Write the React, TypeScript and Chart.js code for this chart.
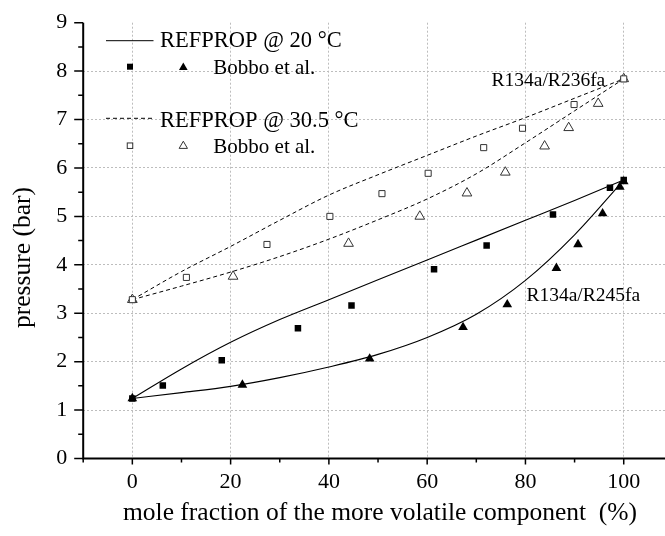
import React, { useEffect, useRef } from 'react';
import { Chart, registerables } from 'chart.js';

Chart.register(...registerables);

const FONT = "'Liberation Serif', 'Times New Roman', Times, serif";

// REFPROP curves (sampled along composition)
const curveX = [0, 10, 20, 30, 40, 50, 60, 70, 80, 90, 100];
const bubble20 = [1.24, 1.85, 2.4, 2.87, 3.28, 3.69, 4.1, 4.51, 4.92, 5.33, 5.75];
const dew20 = [1.24, 1.36, 1.49, 1.67, 1.89, 2.15, 2.5, 2.98, 3.68, 4.62, 5.75];
const bubble30 = [3.28, 3.86, 4.38, 4.92, 5.44, 5.86, 6.26, 6.66, 7.04, 7.44, 7.84];
const dew30 = [3.28, 3.56, 3.85, 4.17, 4.53, 4.93, 5.36, 5.88, 6.52, 7.18, 7.84];

// Bobbo et al. experimental points
const sq20X = [0, 6.2, 18.2, 33.7, 44.6, 61.4, 72.1, 85.6, 97.2, 100];
const sq20Y = [1.24, 1.51, 2.03, 2.69, 3.16, 3.91, 4.4, 5.04, 5.59, 5.75];
const tri20X = [0, 22.4, 48.3, 67.3, 76.3, 86.3, 90.7, 95.7, 99.2, 100];
const tri20Y = [1.24, 1.52, 2.06, 2.71, 3.18, 3.93, 4.42, 5.06, 5.61, 5.72];
const sq30X = [0, 11.0, 27.4, 40.2, 50.8, 60.2, 71.5, 79.4, 89.9, 100];
const sq30Y = [3.28, 3.74, 4.42, 5.0, 5.47, 5.89, 6.42, 6.82, 7.31, 7.84];
const tri30X = [0, 20.5, 44.0, 58.5, 68.1, 75.9, 83.9, 88.8, 94.8, 100];
const tri30Y = [3.28, 3.76, 4.44, 5.0, 5.48, 5.91, 6.45, 6.83, 7.33, 7.84];

// Ticks
const xTickValues = [-10, 0, 10, 20, 30, 40, 50, 60, 70, 80, 90, 100];
const xLabelValues = [0, 20, 40, 60, 80, 100];
const yTickValues = [0, 0.5, 1, 1.5, 2, 2.5, 3, 3.5, 4, 4.5, 5, 5.5, 6, 6.5, 7, 7.5, 8, 8.5, 9];
const yGridValues = [1, 2, 3, 4, 5, 6, 7, 8];

// Texts
const xTitle = 'mole fraction of the more volatile component  (%)';
const yTitle = 'pressure (bar)';
const legendLabels = ['REFPROP @ 20 °C', 'Bobbo et al.', 'REFPROP @ 30.5 °C', 'Bobbo et al.'];
const annotLabels = ['R134a/R236fa', 'R134a/R245fa'];
const annotPos = [
  { x: 73.1, y: 7.7 },
  { x: 80.2, y: 3.26 },
];

const toPts = (xs: number[], ys: number[]) => xs.map((x, i) => ({ x, y: ys[i] }));

export default function App() {
  const ref = useRef<HTMLCanvasElement>(null);

  useEffect(() => {
    if (!ref.current) return;

    const drawSquare = (ctx: any, cx: number, cy: number, s: number, fill: boolean) => {
      if (fill) {
        ctx.fillStyle = '#000';
        ctx.fillRect(cx - s / 2, cy - s / 2, s, s);
      } else {
        ctx.strokeStyle = '#333';
        ctx.lineWidth = 1;
        ctx.strokeRect(cx - s / 2, cy - s / 2, s, s);
      }
    };
    const drawTri = (ctx: any, cx: number, cy: number, r: number, fill: boolean) => {
      ctx.beginPath();
      ctx.moveTo(cx, cy - r);
      ctx.lineTo(cx + r * 0.866, cy + r * 0.5);
      ctx.lineTo(cx - r * 0.866, cy + r * 0.5);
      ctx.closePath();
      if (fill) {
        ctx.fillStyle = '#000';
        ctx.fill();
      } else {
        ctx.strokeStyle = '#333';
        ctx.lineWidth = 1;
        ctx.stroke();
      }
    };

    const overlay = {
      id: 'overlay',
      afterDraw(chart: any) {
        const { ctx, chartArea: a } = chart;
        const xs = chart.scales.x;
        const ys = chart.scales.y;
        ctx.save();
        // axis lines
        ctx.strokeStyle = '#000';
        ctx.lineWidth = 2;
        ctx.setLineDash([]);
        ctx.beginPath();
        ctx.moveTo(a.left, a.top);
        ctx.lineTo(a.left, a.bottom);
        ctx.lineTo(a.right + 2, a.bottom);
        ctx.stroke();
        // tick marks
        ctx.lineWidth = 1.5;
        ctx.beginPath();
        yTickValues.forEach((v) => {
          const py = ys.getPixelForValue(v);
          const len = Number.isInteger(v) ? 9 : 5;
          ctx.moveTo(a.left, py);
          ctx.lineTo(a.left - len, py);
        });
        xTickValues.forEach((v) => {
          const px = xs.getPixelForValue(v);
          const len = xLabelValues.includes(v) ? 6 : 4;
          ctx.moveTo(px, a.bottom);
          ctx.lineTo(px, a.bottom + len);
        });
        ctx.stroke();

        // axis titles
        ctx.fillStyle = '#000';
        ctx.font = `25.5px ${FONT}`;
        ctx.textAlign = 'center';
        ctx.textBaseline = 'alphabetic';
        ctx.fillText(xTitle, 380, 519.5);
        ctx.save();
        ctx.translate(29.6, 257.5);
        ctx.rotate(-Math.PI / 2);
        ctx.fillText(yTitle, 0, 0);
        ctx.restore();

        // legend
        ctx.textAlign = 'left';
        ctx.strokeStyle = '#000';
        ctx.lineWidth = 1;
        ctx.beginPath();
        ctx.moveTo(106, 40.7);
        ctx.lineTo(153.5, 40.7);
        ctx.stroke();
        ctx.fillStyle = '#000';
        ctx.font = `22.5px ${FONT}`;
        ctx.fillText(legendLabels[0], 160, 46.7);
        drawSquare(ctx, 130, 66.7, 6, true);
        drawTri(ctx, 183.3, 67.5, 5, true);
        ctx.fillStyle = '#000';
        ctx.font = `21px ${FONT}`;
        ctx.fillText(legendLabels[1], 213.3, 74);
        ctx.setLineDash([4, 3]);
        ctx.strokeStyle = '#000';
        ctx.beginPath();
        ctx.moveTo(106, 118.3);
        ctx.lineTo(153.5, 118.3);
        ctx.stroke();
        ctx.setLineDash([]);
        ctx.font = `22.5px ${FONT}`;
        ctx.fillText(legendLabels[2], 160, 126.7);
        drawSquare(ctx, 130, 145.7, 5.5, false);
        drawTri(ctx, 183.3, 146, 4.8, false);
        ctx.fillStyle = '#000';
        ctx.font = `21px ${FONT}`;
        ctx.fillText(legendLabels[3], 213.3, 152.7);

        // annotations
        ctx.font = `19.5px ${FONT}`;
        annotLabels.forEach((t, i) => {
          ctx.fillText(t, xs.getPixelForValue(annotPos[i].x), ys.getPixelForValue(annotPos[i].y));
        });
        ctx.restore();
      },
    };

    const chart = new Chart(ref.current, {
      type: 'scatter',
      data: {
        datasets: [
          {
            label: 'sq20',
            data: toPts(sq20X, sq20Y),
            pointStyle: 'rect',
            pointRadius: 4.6,
            backgroundColor: '#000',
            borderColor: '#000',
            borderWidth: 0,
          },
          {
            label: 'tri20',
            data: toPts(tri20X, tri20Y),
            pointStyle: 'triangle',
            pointRadius: 5.6,
            backgroundColor: '#000',
            borderColor: '#000',
            borderWidth: 0,
          },
          {
            label: 'sq30',
            data: toPts(sq30X, sq30Y),
            pointStyle: 'rect',
            pointRadius: 4.3,
            backgroundColor: '#fff',
            borderColor: '#333',
            borderWidth: 1,
          },
          {
            label: 'tri30',
            data: toPts(tri30X, tri30Y),
            pointStyle: 'triangle',
            pointRadius: 5.6,
            backgroundColor: '#fff',
            borderColor: '#333',
            borderWidth: 1,
          },
          {
            label: 'REFPROP 20 bubble',
            data: toPts(curveX, bubble20),
            showLine: true,
            pointRadius: 0,
            borderColor: '#000',
            borderWidth: 1.1,
            cubicInterpolationMode: 'monotone',
          },
          {
            label: 'REFPROP 20 dew',
            data: toPts(curveX, dew20),
            showLine: true,
            pointRadius: 0,
            borderColor: '#000',
            borderWidth: 1.1,
            cubicInterpolationMode: 'monotone',
          },
          {
            label: 'REFPROP 30.5 bubble',
            data: toPts(curveX, bubble30),
            showLine: true,
            pointRadius: 0,
            borderColor: '#000',
            borderWidth: 1,
            borderDash: [4, 3],
            cubicInterpolationMode: 'monotone',
          },
          {
            label: 'REFPROP 30.5 dew',
            data: toPts(curveX, dew30),
            showLine: true,
            pointRadius: 0,
            borderColor: '#000',
            borderWidth: 1,
            borderDash: [4, 3],
            cubicInterpolationMode: 'monotone',
          },
        ] as any,
      },
      options: {
        animation: false,
        responsive: false,
        maintainAspectRatio: false,
        layout: { autoPadding: false, padding: { top: 22.7, right: 0, left: 0, bottom: 0 } },
        plugins: {
          legend: { display: false },
          tooltip: { enabled: false },
          title: { display: false },
        },
        scales: {
          x: {
            type: 'linear',
            min: -10,
            max: 108.4,
            afterBuildTicks: (s: any) => {
              s.ticks = xTickValues.map((v) => ({ value: v }));
            },
            afterFit: (s: any) => {
              s.height = 77.5;
              s.paddingLeft = 0;
              s.paddingRight = 0;
              s.paddingTop = 0;
              s.paddingBottom = 0;
            },
            ticks: {
              autoSkip: false,
              maxRotation: 0,
              padding: 11,
              color: '#000',
              font: { family: FONT, size: 22 },
              callback: (v: any) => (xLabelValues.includes(Number(v)) ? String(v) : ''),
            },
            grid: {
              drawTicks: false,
              lineWidth: 1,
              color: (c: any) =>
                c.tick && xLabelValues.includes(c.tick.value) ? '#bdbdbd' : 'rgba(0,0,0,0)',
            },
            border: { display: false, dash: [2, 2] },
          },
          y: {
            type: 'linear',
            min: 0,
            max: 9,
            afterBuildTicks: (s: any) => {
              s.ticks = yTickValues.map((v) => ({ value: v }));
            },
            afterFit: (s: any) => {
              s.width = 83.2;
              s.paddingLeft = 0;
              s.paddingRight = 0;
              s.paddingTop = 0;
              s.paddingBottom = 0;
            },
            ticks: {
              autoSkip: false,
              padding: 16,
              color: '#000',
              font: { family: FONT, size: 22 },
              callback: (v: any) => (Number.isInteger(Number(v)) ? String(v) : ''),
            },
            grid: {
              drawTicks: false,
              lineWidth: 1,
              color: (c: any) =>
                c.tick && yGridValues.includes(c.tick.value) ? '#bdbdbd' : 'rgba(0,0,0,0)',
            },
            border: { display: false, dash: [2, 2] },
          },
        },
      } as any,
      plugins: [overlay],
    });

    return () => chart.destroy();
  }, []);

  return (
    <div
      style={{
        position: 'fixed',
        left: 0,
        top: 0,
        width: 665,
        height: 536,
        background: '#fff',
        overflow: 'hidden',
      }}
    >
      <canvas ref={ref} width={665} height={536} style={{ display: 'block', width: 665, height: 536 }} />
    </div>
  );
}
